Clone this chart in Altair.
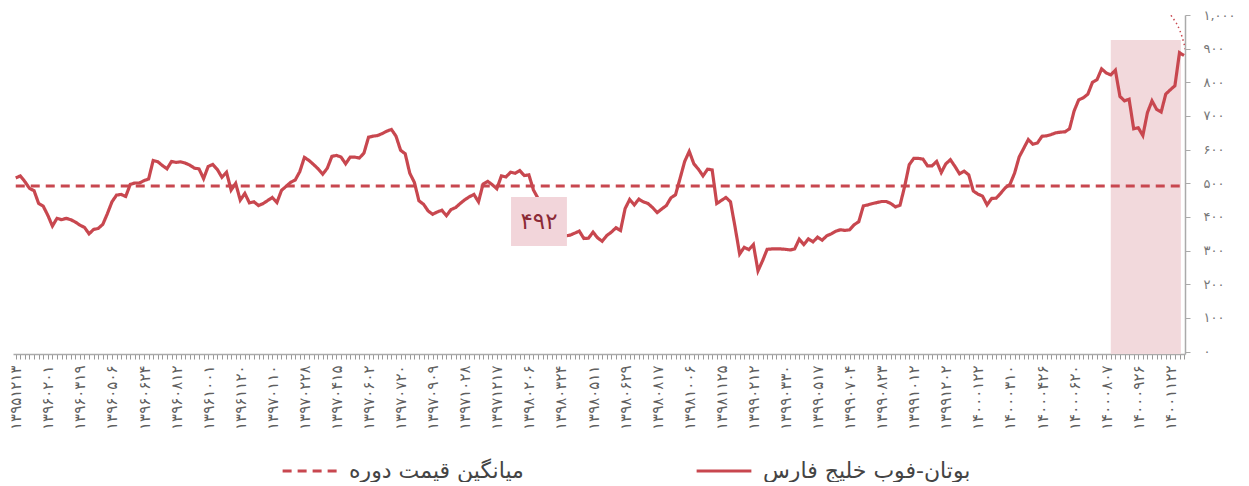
import json
import altair as alt
import pandas as pd

# ---------------- data ----------------
label_dates = [
    "13951213", "13960201", "13960319", "13960506", "13960624", "13960812",
    "13961001", "13961120", "13970110", "13970228", "13970415", "13970602",
    "13970720", "13970909", "13971028", "13971217", "13980206", "13980324",
    "13980511", "13980629", "13980817", "13981006", "13981125", "13990212",
    "13990330", "13990517", "13990704", "13990823", "13991012", "13991202",
    "14000122", "14000310", "14000426", "14000620", "14000807", "14000926",
    "14001122",
]
FA = str.maketrans("0123456789", "۰۱۲۳۴۵۶۷۸۹")
x_labels = [d.translate(FA) for d in label_dates]
label_step = 7

prices = [
    516, 522, 505, 485, 478, 440, 432, 405, 373, 396, 392, 396, 392, 385, 376, 369, 350, 363, 366, 378, 410,
    445, 465, 467, 461, 497, 501, 501, 508, 513, 568, 564, 553, 543, 565, 562, 564, 560, 554, 545, 543,
    514, 550, 556, 541, 518, 533, 480, 500, 450, 470, 442, 445, 434, 440, 449, 458, 443, 479, 491, 503,
    510, 535, 577, 568, 556, 543, 527, 545, 580, 583, 578, 558, 578, 578, 575, 590, 637, 640, 642, 648,
    655, 660, 640, 598, 588, 530, 503, 448, 438, 418, 408, 415, 420, 404, 422, 428, 440, 451, 460, 467,
    445, 498, 506, 496, 484, 522, 519, 533, 530, 538, 523, 525, 480, 455, 420, 390, 365, 352, 348, 344,
    346, 352, 358, 336, 337, 355, 338, 328, 345, 355, 368, 360, 425, 452, 436, 453, 445, 440, 428, 413,
    424, 434, 457, 466, 515, 565, 595, 558, 542, 522, 542, 540, 440, 449, 458, 445, 370, 290, 310, 303,
    318, 240, 270, 304, 305, 305, 305, 304, 302, 305, 334, 318, 335, 326, 340, 331, 344, 350, 358, 362,
    360, 362, 377, 386, 433, 436, 440, 443, 446, 446, 440, 430, 435, 490, 555, 574, 574, 572, 552, 552,
    565, 532, 558, 570, 550, 528, 536, 525, 477, 468, 462, 436, 455, 456, 471, 487, 497, 530, 578, 604,
    630, 616, 620, 640, 641, 645, 650, 652, 653, 662, 715, 748, 754, 765, 800, 808, 840, 828, 822, 836,
    758, 745, 750, 662, 665, 642, 710, 745, 720, 712, 765, 778, 790, 888, 880,
]
mean_price = 492
mean_text = "۴۹۲"

series_name = "بوتان-فوب  خلیج فارس"
mean_name = "میانگین قیمت دوره"

y_ticks = [0, 100, 200, 300, 400, 500, 600, 700, 800, 900, 1000]
y_labels = ["۰", "۱۰۰", "۲۰۰", "۳۰۰", "۴۰۰", "۵۰۰", "۶۰۰", "۷۰۰", "۸۰۰", "۹۰۰", "۱,۰۰۰"]

# highlighted band (index units / price units)
band_x = [239, 254.3]
band_y = [-7, 926]
# mean label box
box_x = [108.1, 120.3]
box_y = [314, 459.5]
box_center = [114.2, 386]
# dotted arc annotation (top right)
arc_x = [246.3, 249.6, 252.4, 254.1, 255.0, 255.6]
arc_y = [1047, 1024, 994, 953, 914, 878]

# ---------------- styling ----------------
RED = "#c8474f"
FONT = "DejaVu Sans"
n = len(prices)
x_dom = [-0.6, n - 0.8]
y_dom = [-7, 1000]

rows = []
for i, v in enumerate(prices):
    rows.append({"idx": i, "value": v, "series": series_name})
for i in range(n):
    rows.append({"idx": i, "value": mean_price, "series": mean_name})
df = pd.DataFrame(rows)

xs = alt.Scale(domain=x_dom, nice=False, zero=False)
ys = alt.Scale(domain=y_dom, nice=False, zero=False)

x_expr = ("datum.value % " + str(label_step) + " == 0 ? "
          + json.dumps(x_labels, ensure_ascii=False)
          + "[datum.value / " + str(label_step) + "] : ''")
y_expr = json.dumps(y_labels, ensure_ascii=False) + "[round(datum.value / 100)]"

x_axis = alt.Axis(
    values=list(range(n)), labelExpr=x_expr, labelAngle=270, labelFont=FONT,
    labelFontSize=15, labelColor="#5f5f5f", labelPadding=6, labelOverlap=False,
    labelFlush=False, tickSize=5, tickColor="#999", domainColor="#aaa",
    domainWidth=1.5, grid=False, title=None,
)
y_axis = alt.Axis(
    orient="right", values=y_ticks, labelExpr=y_expr, labelFont=FONT,
    labelFontSize=13, labelColor="#777", labelPadding=13, tickSize=5,
    tickColor="#aaa", domainColor="#aaa", domainWidth=1.5, grid=False, title=None,
)

legend = alt.Legend(
    title=None, orient="none", legendX=268, legendY=427, direction="horizontal",
    symbolType="stroke", symbolSize=3000, symbolStrokeWidth=3,
    labelFont=FONT, labelFontSize=22, labelColor="#444", labelLimit=500,
    labelOffset=10, columnPadding=166,
)


def X(field):
    return alt.X(field, scale=xs, axis=x_axis)


def Y(field):
    return alt.Y(field, scale=ys, axis=y_axis)


band = alt.Chart(pd.DataFrame({"x0": [band_x[0]], "x1": [band_x[1]],
                               "y0": [band_y[0]], "y1": [band_y[1]]})).mark_rect(
    color="#f2d9dc").encode(x=X("x0:Q"), x2="x1", y=Y("y0:Q"), y2="y1")

lines = alt.Chart(df).mark_line(strokeWidth=3.2).encode(
    x=X("idx:Q"),
    y=Y("value:Q"),
    color=alt.Color("series:N", scale=alt.Scale(domain=[mean_name, series_name],
                                                range=[RED, RED]), legend=legend),
    strokeDash=alt.StrokeDash("series:N", scale=alt.Scale(domain=[mean_name, series_name],
                                                          range=[[9, 6], [1, 0]]), legend=legend),
)

box = alt.Chart(pd.DataFrame({"x0": [box_x[0]], "x1": [box_x[1]],
                              "y0": [box_y[0]], "y1": [box_y[1]]})).mark_rect(
    color="#f2d5da").encode(x=X("x0:Q"), x2="x1", y=Y("y0:Q"), y2="y1")

box_label = alt.Chart(pd.DataFrame({"x": [box_center[0]], "y": [box_center[1]],
                                    "t": [mean_text]})).mark_text(
    font=FONT, fontSize=23, color="#8b2a36", align="center", baseline="middle").encode(
    x=X("x:Q"), y=Y("y:Q"), text="t:N")

arc = alt.Chart(pd.DataFrame({"x": arc_x, "y": arc_y})).mark_line(
    color=RED, strokeWidth=1.5, strokeDash=[1.5, 3], interpolate="monotone",
    clip=True).encode(x=X("x:Q"), y=Y("y:Q"))

chart = alt.layer(band, lines, box, box_label, arc).properties(
    width=1172, height=339,
    padding={"left": 0, "top": 1, "right": 2, "bottom": 0},
).configure_view(stroke=None)

chart.save("out.html", embed_options={"renderer": "svg", "actions": False})
